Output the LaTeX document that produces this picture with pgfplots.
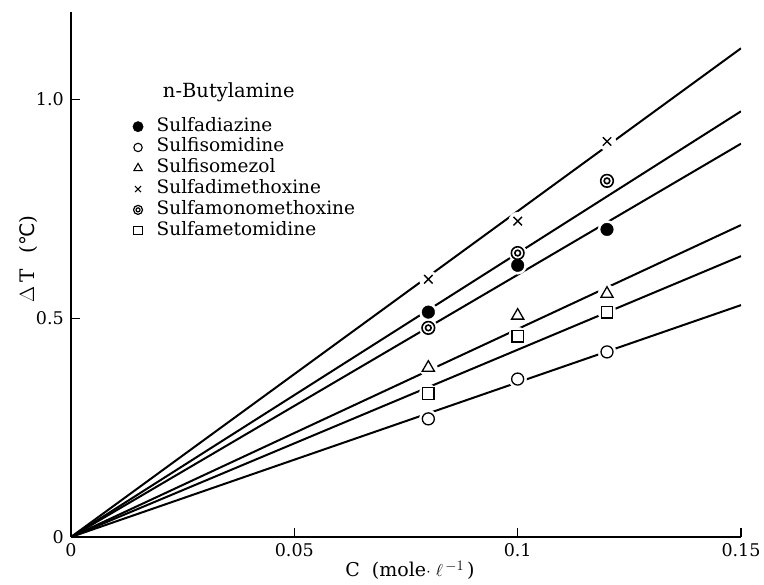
\documentclass[border=0pt]{standalone}
\usepackage{pgfplots}
\pgfplotsset{compat=1.18}
\usepackage{fontspec}
\setmainfont{DejaVu Serif}
\newfontfamily\symfont{DejaVu Sans}
\pgfdeclareplotmark{dcirc}{%
  \pgfpathcircle{\pgfpointorigin}{\pgfplotmarksize}\pgfusepathqstroke
  \pgfpathcircle{\pgfpointorigin}{0.45\pgfplotmarksize}\pgfusepathqstroke}
\begin{document}
\fontsize{18}{21}\selectfont
\begin{tikzpicture}
\useasboundingbox (-71pt,-48pt) rectangle (693pt,537pt);
\begin{axis}[
  scale only axis, width=670pt, height=525pt,
  xmin=0, xmax=0.15, ymin=0, ymax=1.2,
  axis x line=bottom, axis y line=left,
  axis line style={-, line width=1.6pt},
  xtick={0,0.05,0.1,0.15}, xticklabels={0,0.05,0.1,0.15},
  ytick={0,0.5,1}, yticklabels={0,0.5,1.0},
  tick align=inside, major tick length=9pt,
  tick style={line width=1.2pt, black},
  tick label style={font=\fontsize{17.5}{20}\selectfont},
  /pgf/number format/assume math mode=true,
  xticklabel style={yshift=0pt},
  yticklabel style={xshift=-1pt},
  xlabel={C\hspace{12pt}(mole$\cdot$\hspace{5pt}$\ell^{\,-1}$\hspace{3pt})},
  ylabel={$\Delta$\,T\hspace{16pt}({\symfont ℃})},
  every axis x label/.style={at={(rel axis cs:0.5,0)}, xshift=4pt, yshift=-33pt, anchor=center, font=\fontsize{19}{22}\selectfont},
  every axis y label/.style={at={(rel axis cs:0,0.53)}, xshift=-43pt, rotate=90, anchor=center, font=\fontsize{20}{23}\selectfont},
  legend style={draw=none, fill=none, at={(rel axis cs:0.092,0.801)}, anchor=north west,
    font=\fontsize{18.5}{21}\selectfont, row sep=0.8pt, column sep=12pt, inner sep=0pt,
    nodes={inner sep=1.5pt, text height=13pt, text depth=4pt}},
  legend cell align=left,
]
% fitted lines
\addplot[line width=2pt, forget plot] coordinates {(0,0) (0.15,1.117)};
\addplot[line width=2pt, forget plot] coordinates {(0,0) (0.15,0.973)};
\addplot[line width=2pt, forget plot] coordinates {(0,0) (0.15,0.899)};
\addplot[line width=2pt, forget plot] coordinates {(0,0) (0.15,0.713)};
\addplot[line width=2pt, forget plot] coordinates {(0,0) (0.15,0.642)};
\addplot[line width=2pt, forget plot] coordinates {(0,0) (0.15,0.530)};
% white halos around the data points
\addplot[only marks, mark=*, mark size=9pt, draw=white, fill=white, forget plot] coordinates {
 (0.08,0.514) (0.1,0.621) (0.12,0.703)
 (0.08,0.270) (0.1,0.361) (0.12,0.423)
 (0.08,0.387) (0.1,0.506) (0.12,0.556)
 (0.08,0.589) (0.1,0.722) (0.12,0.904)
 (0.08,0.478) (0.1,0.649) (0.12,0.814)
 (0.08,0.328) (0.1,0.459) (0.12,0.514)};
% data
\addplot[only marks, mark=*, mark size=6.3pt, black, forget plot] coordinates {(0.08,0.514) (0.1,0.621) (0.12,0.703)};
\addplot[only marks, mark=o, mark size=6pt, black, line width=1.3pt, forget plot] coordinates {(0.08,0.270) (0.1,0.361) (0.12,0.423)};
\addplot[only marks, mark=triangle, mark size=7pt, black, line width=1.3pt, forget plot] coordinates {(0.08,0.387) (0.1,0.506) (0.12,0.556)};
\addplot[only marks, mark=x, mark size=6pt, black, line width=1.4pt, forget plot] coordinates {(0.08,0.589) (0.1,0.722) (0.12,0.904)};
\addplot[only marks, mark=dcirc, mark size=6.3pt, black, line width=1.6pt, forget plot] coordinates {(0.08,0.478) (0.1,0.649) (0.12,0.814)};
\addplot[only marks, mark=square, mark size=5.8pt, black, line width=1.3pt, forget plot] coordinates {(0.08,0.328) (0.1,0.459) (0.12,0.514)};
% legend
\addlegendimage{only marks, mark=*, mark size=5.2pt, black}
\addlegendentry{Sulfadiazine}
\addlegendimage{only marks, mark=o, mark size=4.2pt, black, line width=1.1pt}
\addlegendentry{Sulfisomidine}
\addlegendimage{only marks, mark=triangle, mark size=4.8pt, black, line width=1.1pt}
\addlegendentry{Sulfisomezol}
\addlegendimage{only marks, mark=x, mark size=4.2pt, black, line width=1.1pt}
\addlegendentry{Sulfadimethoxine}
\addlegendimage{only marks, mark=dcirc, mark size=4.5pt, black, line width=1.2pt}
\addlegendentry{Sulfamonomethoxine}
\addlegendimage{only marks, mark=square, mark size=4.2pt, black, line width=1.1pt}
\addlegendentry{Sulfametomidine}
\node[anchor=west, inner sep=0pt, font=\fontsize{19.5}{22}\selectfont] at (rel axis cs:0.137,0.848) {n-Butylamine};
\end{axis}
\end{tikzpicture}
\end{document}
